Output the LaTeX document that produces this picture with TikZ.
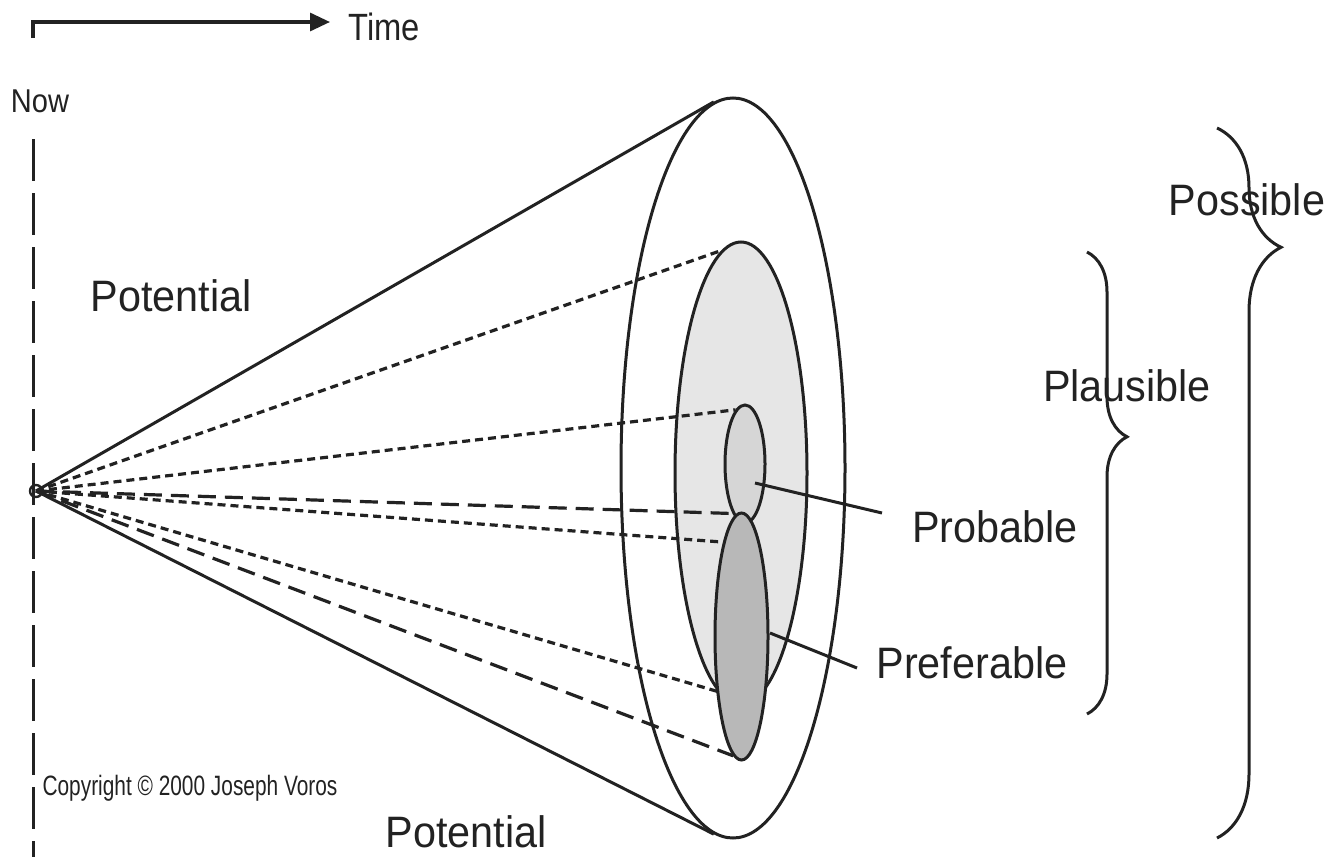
\documentclass[tikz,border=0pt]{standalone}
\usepackage{fontspec}
\setmainfont{Liberation Sans}
\usetikzlibrary{arrows.meta, shapes.geometric, decorations.pathreplacing}
\definecolor{ink}{HTML}{222222}
\definecolor{plausgray}{HTML}{E6E6E6}
\definecolor{probgray}{HTML}{D6D6D6}
\definecolor{prefgray}{HTML}{B8B8B8}
\tikzset{
  cone/.style={draw=ink, line width=3pt},
  ring/.style={ellipse, draw=ink, line width=3pt, inner sep=0pt},
  dotline/.style={draw=ink, line width=3.2pt, dash pattern=on 8pt off 5pt},
  dashline/.style={draw=ink, line width=3.2pt, dash pattern=on 18pt off 9pt},
  bigtext/.style={text=ink, inner sep=0pt, xscale=0.94, font=\fontsize{44pt}{50pt}\selectfont},
  bracket/.style={decorate, draw=ink, line width=3pt}
}

\begin{document}
\begin{tikzpicture}[x=1pt, y=-1pt]
  \useasboundingbox (0,0) rectangle (1336,857);

  % Time axis
  \coordinate (timefoot) at (33,38);
  \coordinate (timetip) at (330,22);
  \draw[draw=ink, line width=3.2pt, -{Triangle[length=20pt,width=18pt]}] (timefoot) |- (timetip);
  \node[text=ink, inner sep=0pt, xscale=0.86, font=\fontsize{38pt}{44pt}\selectfont] (time) at (384,27) {Time};

  % Now line
  \node[text=ink, inner sep=0pt, xscale=0.88, font=\fontsize{33pt}{38pt}\selectfont] (now) at (40,101) {Now};
  \coordinate (nowtop) at (33,139);
  \coordinate (nowbot) at (33,857);
  \draw[draw=ink, line width=3pt, dash pattern=on 42pt off 12pt] (nowtop) -- (nowbot);

  % Ellipses of the cone
  \node[ring, minimum width=224pt, minimum height=740pt] (possible) at (733,468) {};
  \node[ring, fill=plausgray, minimum width=132pt, minimum height=462pt] (plausible) at (741,473) {};
  \node[ring, fill=probgray, minimum width=40pt, minimum height=118pt] (probable) at (745,464) {};
  \node[ring, fill=prefgray, minimum width=53pt, minimum height=247pt] (preferable) at (741.5,636.5) {};

  % Apex
  \node[circle, draw=ink, line width=2.4pt, minimum size=12pt, inner sep=0pt] (apex) at (36,491) {};

  % Solid outline of the cone
  \draw[cone] (apex.center) -- (possible.93);
  \draw[cone] (apex.center) -- (possible.267);

  % Dotted and dashed lines
  \draw[dotline] (apex.center) -- (plausible.95);
  \draw[dotline] (apex.center) -- (probable.100);
  \draw[dashline] (apex.center) -- (probable.256);
  \draw[dotline] (apex.center) -- (preferable.101);
  \draw[dotline] (apex.center) -- (plausible.264);
  \draw[dashline] (apex.center) -- (preferable.266);

  % Labels
  \node[bigtext] (pot-up) at (171,296) {Potential};
  \node[bigtext] (pot-down) at (466,832) {Potential};
  \node[text=ink, inner sep=0pt, xscale=0.745, font=\fontsize{28pt}{32pt}\selectfont] (copy) at (190,788) {Copyright © 2000 Joseph Voros};

  \node[bigtext] (problabel) at (995,527) {Probable};
  \coordinate (prob-pin) at (755,483);
  \coordinate (prob-end) at (882,513);
  \draw[cone] (prob-pin) -- (prob-end);

  \node[bigtext] (preflabel) at (972,663) {Preferable};
  \coordinate (pref-pin) at (770,633);
  \coordinate (pref-end) at (857,668);
  \draw[cone] (pref-pin) -- (pref-end);

  \node[bigtext] (plauslabel) at (1127,386) {Plausible};
  \node[bigtext] (posslabel) at (1247,200) {Possible};

  % Braces
  \coordinate (plaus-top) at (1087,252);
  \coordinate (plaus-bot) at (1087,714);
  \draw[bracket, decoration={brace, amplitude=40pt, aspect=0.4}] (plaus-top) -- (plaus-bot);
  \coordinate (poss-top) at (1217,128);
  \coordinate (poss-bot) at (1217,838);
  \draw[bracket, decoration={brace, amplitude=64pt, aspect=0.168}] (poss-top) -- (poss-bot);
\end{tikzpicture}
\end{document}
